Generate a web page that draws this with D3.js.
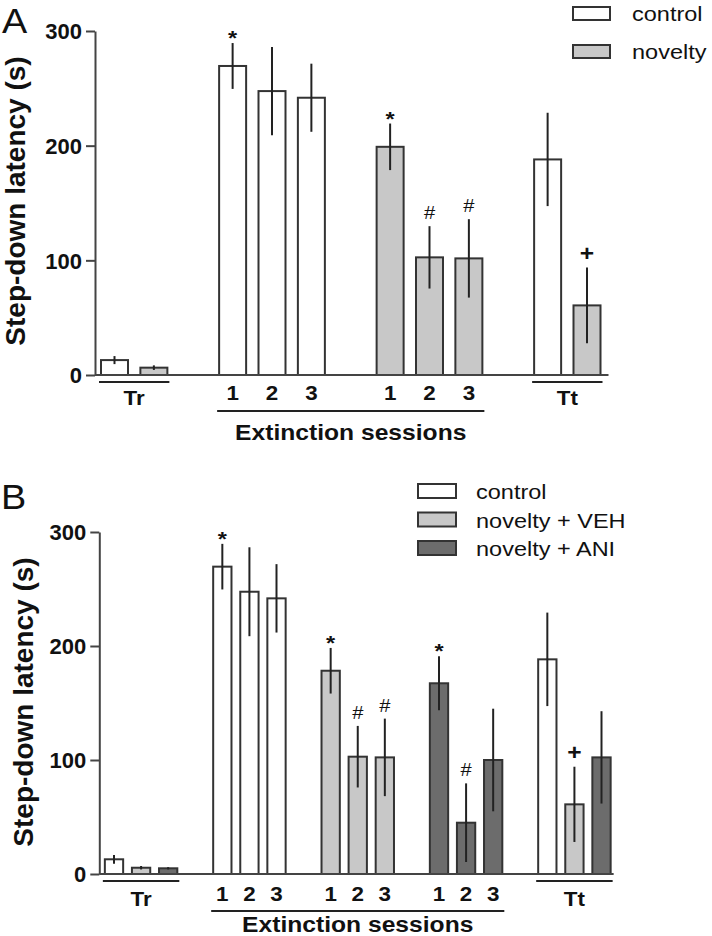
<!DOCTYPE html>
<html><head><meta charset="utf-8">
<script src="https://cdn.jsdelivr.net/npm/d3@7"></script>
<style>body{margin:0;background:#fff}svg{display:block}</style>
</head><body>
<svg id="chart" width="712" height="936"></svg>
<script>
// ---------- shared ----------
const yTicks = [0, 100, 200, 300];
const yTitle = "Step-down latency (s)";
const extTitle = "Extinction sessions";

// ---------- Panel A ----------
const slotsA = ["Tr-control","Tr-novelty","gap1","Ext1-control","Ext2-control","Ext3-control","gap2",
  "Ext1-novelty","Ext2-novelty","Ext3-novelty","gap3","Tt-control","Tt-novelty"];
const barsA   = ["Tr-control","Tr-novelty","Ext1-control","Ext2-control","Ext3-control",
  "Ext1-novelty","Ext2-novelty","Ext3-novelty","Tt-control","Tt-novelty"];
const groupA  = ["control","novelty","control","control","control","novelty","novelty","novelty","control","novelty"];
const meanA   = [13, 6.4, 269.5, 247.6, 241.8, 199, 102.6, 101.7, 188, 60.7];
const semA    = [3.5, 2, 20, 38.5, 29.7, 20.3, 27.2, 34.2, 40.7, 33];
const markA   = ["", "", "*", "", "", "*", "#", "#", "", "+"];
const sessA   = ["", "", "1", "2", "3", "1", "2", "3", "", ""];
const phaseA  = ["Tr","Tr","Ext","Ext","Ext","Ext","Ext","Ext","Tt","Tt"];
const legendA = ["control", "novelty"];

// ---------- Panel B ----------
const slotsB = ["Tr-control","Tr-VEH","Tr-ANI","gap1","Ext1-control","Ext2-control","Ext3-control","gap2",
  "Ext1-VEH","Ext2-VEH","Ext3-VEH","gap3","Ext1-ANI","Ext2-ANI","Ext3-ANI","gap4","Tt-control","Tt-VEH","Tt-ANI"];
const barsB  = ["Tr-control","Tr-VEH","Tr-ANI","Ext1-control","Ext2-control","Ext3-control",
  "Ext1-VEH","Ext2-VEH","Ext3-VEH","Ext1-ANI","Ext2-ANI","Ext3-ANI","Tt-control","Tt-VEH","Tt-ANI"];
const groupB = ["control","VEH","ANI","control","control","control","VEH","VEH","VEH","ANI","ANI","ANI","control","VEH","ANI"];
const meanB  = [12.9, 5.5, 5, 269.6, 247.6, 241.8, 178.3, 102.9, 102.3, 167.3, 45, 100, 188.3, 61.1, 102.3];
const semB   = [3.8, 1.5, 1, 20, 39, 30, 20, 27, 34, 23.7, 34.5, 45, 41, 33, 40.5];
const markB  = ["", "", "", "*", "", "", "*", "#", "#", "*", "#", "", "", "+", ""];
const sessB  = ["", "", "", "1", "2", "3", "1", "2", "3", "1", "2", "3", "", "", ""];
const phaseB = ["Tr","Tr","Tr","Ext","Ext","Ext","Ext","Ext","Ext","Ext","Ext","Ext","Tt","Tt","Tt"];
const legendB = ["control", "novelty + VEH", "novelty + ANI"];

const fills = {control: "#ffffff", novelty: "#c8c8c8", VEH: "#c8c8c8", ANI: "#6c6c6c"};
const legendKey = {"control": "control", "novelty": "novelty", "novelty + VEH": "VEH", "novelty + ANI": "ANI"};

const svg = d3.select("#chart");
const FONT = "'Liberation Sans', Arial, Helvetica, sans-serif";
const SX = 1.12;

function txt(g, x, y, s, size, weight, anchor, sx) {
  return g.append("text")
    .attr("transform", `translate(${x},${y}) scale(${sx == null ? SX : sx},1)`)
    .attr("text-anchor", anchor || "middle")
    .attr("font-family", FONT).attr("font-size", size).attr("font-weight", weight || "normal")
    .attr("fill", "#111").text(s);
}

function panel(cfg) {
  const g = svg.append("g");
  const x = d3.scalePoint().domain(cfg.slots).range(cfg.xr);
  const y = d3.scaleLinear().domain([0, 300]).range(cfg.yr);
  const bw = cfg.bw;
  const data = cfg.bars.map((b, i) => ({b, grp: cfg.group[i], m: cfg.mean[i], e: cfg.sem[i], mk: cfg.mark[i], s: cfg.sess[i], ph: cfg.phase[i]}));

  // panel letter
  txt(g, cfg.letter[1], cfg.letter[2], cfg.letter[0], 35, "normal", "start", 1.08);

  // y axis
  const ax = g.append("g").attr("transform", `translate(${cfg.axisX},0)`)
    .call(d3.axisLeft(y).tickValues(yTicks).tickSize(9).tickSizeOuter(0).tickPadding(4));
  ax.select(".domain").attr("stroke", "#444").attr("stroke-width", 2);
  ax.selectAll(".tick line").attr("stroke", "#444").attr("stroke-width", 2);
  ax.selectAll(".tick text").attr("font-family", FONT).attr("font-size", 22).attr("font-weight", "bold")
    .attr("fill", "#111").attr("dy", "0.36em");

  // y title
  g.append("text").attr("transform", `translate(${cfg.yTitle[0]},${cfg.yTitle[1]}) rotate(-90)`)
    .attr("text-anchor", "middle").attr("dominant-baseline", "central")
    .attr("font-family", FONT).attr("font-size", 28).attr("font-weight", "bold").attr("fill", "#111")
    .text(yTitle);

  // bars
  g.selectAll("rect.bar").data(data).join("rect").attr("class", "bar")
    .attr("x", d => x(d.b) - bw / 2).attr("width", bw)
    .attr("y", d => y(d.m)).attr("height", d => y(0) - y(d.m))
    .attr("fill", d => fills[d.grp]).attr("stroke", "#333").attr("stroke-width", 2);

  // error bars
  g.selectAll("line.err").data(data).join("line").attr("class", "err")
    .attr("x1", d => x(d.b)).attr("x2", d => x(d.b))
    .attr("y1", d => y(d.m - d.e)).attr("y2", d => y(d.m + d.e))
    .attr("stroke", "#222").attr("stroke-width", 2);

  // x axis baseline
  const last = data[data.length - 1];
  g.append("line").attr("x1", cfg.axisX).attr("x2", x(last.b) + bw / 2 + cfg.xEndPad)
    .attr("y1", y(0)).attr("y2", y(0)).attr("stroke", "#444").attr("stroke-width", 2);

  // significance marks
  data.filter(d => d.mk).forEach(d => {
    const top = y(d.m + d.e);
    if (d.mk === "*") txt(g, x(d.b), top + 2, "*", 21, "bold");
    else if (d.mk === "#") txt(g, x(d.b), top - 7, "#", 18, "normal");
    else txt(g, x(d.b), top - 7, "+", 22, "bold");
  });

  // session numbers
  data.filter(d => d.s).forEach(d => txt(g, x(d.b), y(0) + cfg.numDy, d.s, 20, "bold"));

  // phase underlines + labels
  ["Tr", "Ext", "Tt"].forEach(p => {
    const ds = data.filter(d => d.ph === p);
    const x0 = x(ds[0].b) - bw / 2 - 2, x1 = x(ds[ds.length - 1].b) + bw / 2 + 2;
    const ly = p === "Ext" ? y(0) + cfg.extLineDy : y(0) + 7;
    g.append("line").attr("x1", x0).attr("x2", x1).attr("y1", ly).attr("y2", ly)
      .attr("stroke", "#222").attr("stroke-width", 2);
    if (p === "Ext") txt(g, (x0 + x1) / 2, y(0) + cfg.extTextDy, extTitle, 22, "bold");
    else txt(g, (x0 + x1) / 2, y(0) + cfg.phaseTextDy, p, 20, "bold");
  });

  // legend
  cfg.legend.forEach((name, i) => {
    const ly = cfg.legPos[1] + i * cfg.legStep;
    g.append("rect").attr("x", cfg.legPos[0]).attr("y", ly).attr("width", cfg.legBox[0]).attr("height", cfg.legBox[1])
      .attr("fill", fills[legendKey[name]]).attr("stroke", "#333").attr("stroke-width", 2);
    txt(g, cfg.legPos[2], ly + cfg.legBox[1] + 1, name, 21, "normal", "start");
  });
}

panel({
  slots: slotsA, bars: barsA, group: groupA, mean: meanA, sem: semA, mark: markA, sess: sessA, phase: phaseA,
  xr: [114.5, 587], yr: [375, 31], bw: 27, axisX: 95, xEndPad: 8,
  letter: ["A", 2, 33], yTitle: [15.5, 201],
  numDy: 25, phaseTextDy: 30, extLineDy: 36, extTextDy: 65,
  legend: legendA, legPos: [573, 7, 632], legStep: 38, legBox: [37, 13]
});

panel({
  slots: slotsB, bars: barsB, group: groupB, mean: meanB, sem: semB, mark: markB, sess: sessB, phase: phaseB,
  xr: [114, 601.5], yr: [874, 532], bw: 18.3, axisX: 99.3, xEndPad: 3,
  letter: ["B", 1, 509], yTitle: [23.5, 702],
  numDy: 26.5, phaseTextDy: 32, extLineDy: 37, extTextDy: 58,
  legend: legendB, legPos: [418, 484, 476], legStep: 28.5, legBox: [38, 14]
});
</script>
</body></html>
